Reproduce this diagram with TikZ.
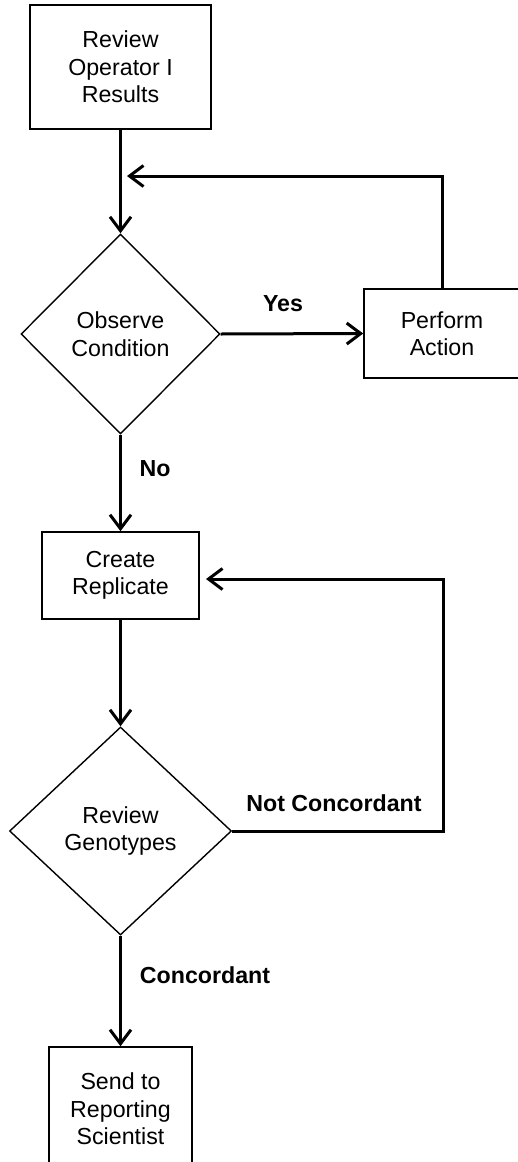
\documentclass[tikz,border=0pt]{standalone}
\usepackage{fontspec}
\setmainfont{Liberation Sans}
\usetikzlibrary{shapes.geometric,arrows.meta}
\begin{document}
\begin{tikzpicture}[x=1pt,y=-1pt,
  txt/.style={font=\fontsize{23.2}{27.5}\selectfont, align=center, inner sep=0pt},
  procbox/.style={txt, draw, line width=1.6pt, rectangle},
  decision/.style={txt, draw, line width=1.4pt, diamond},
  lbl/.style={font=\fontsize{23.2}{27.5}\selectfont\bfseries, inner sep=0pt},
  conn/.style={line width=3pt, -{Straight Barb[length=14pt,width=21pt,line width=3pt]}},
  plain/.style={line width=3pt}
]
\useasboundingbox (0,0) rectangle (518,1162);
\node[procbox, minimum width=181pt, minimum height=124pt] (b1) at (120.5,67) {Review\\Operator I\\Results};
\node[decision, minimum width=199pt, minimum height=200pt] (d1) at (120.5,334) {Observe\\Condition};
\node[procbox, minimum width=156pt, minimum height=89pt] (pa) at (442,333.5) {Perform\\Action};
\node[procbox, minimum width=157pt, minimum height=87pt] (cr) at (120.5,575.5) {Create\\Replicate};
\node[decision, minimum width=222pt, minimum height=208pt] (d2) at (120.5,831) {Review\\Genotypes};
\node[procbox, minimum width=143pt, minimum height=124pt] (sr) at (120.5,1109) {Send to\\Reporting\\Scientist};

\coordinate (fb1) at (127,176);
\coordinate (fb2) at (206,579);

\draw[conn] (b1.south) -- (d1.north);
\draw[conn] (d1.east) -- (pa.west);
\draw[conn] (pa.north) |- (fb1);
\draw[conn] (d1.south) -- (cr.north);
\draw[conn] (cr.south) -- (d2.north);
\draw[conn] (d2.east) -- (443,831) |- (fb2);
\draw[conn] (d2.south) -- (sr.north);

\node[lbl] (yes) at (283,304) {Yes};
\node[lbl] (no) at (155,469) {No};
\node[lbl] (nc) at (334,803) {Not Concordant};
\node[lbl] (c) at (205,975) {Concordant};
\end{tikzpicture}
\end{document}
